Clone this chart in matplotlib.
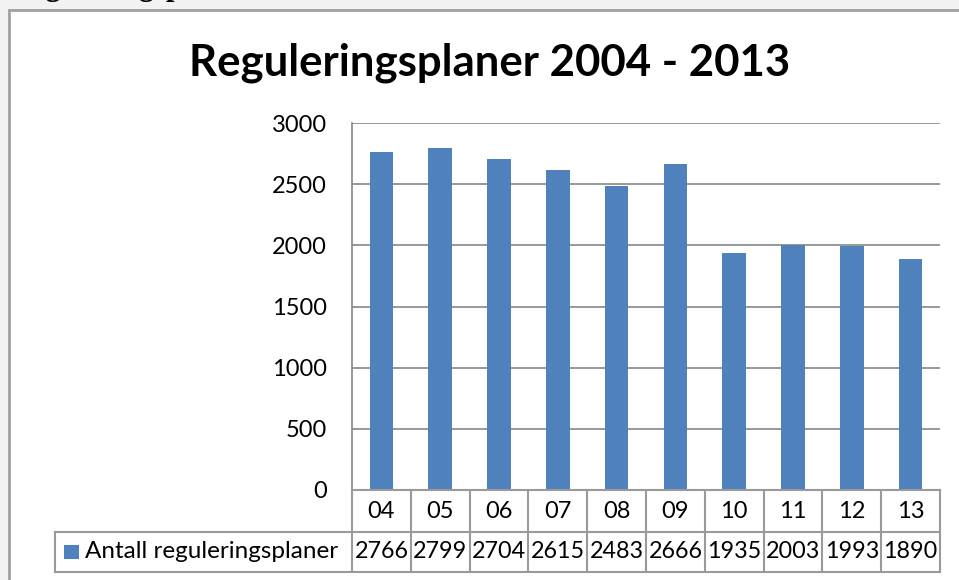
import matplotlib
matplotlib.use("Agg")
import matplotlib.pyplot as plt
from matplotlib.patches import Rectangle
from matplotlib.lines import Line2D

categories = ["04", "05", "06", "07", "08", "09", "10", "11", "12", "13"]
values = [2766, 2799, 2704, 2615, 2483, 2666, 1935, 2003, 1993, 1890]
series_name = "Antall reguleringsplaner"
title = "Reguleringsplaner 2004 - 2013"
yticks = [0, 500, 1000, 1500, 2000, 2500, 3000]

W, H = 959, 580
FONT = "Lato"
BAR = "#4F81BD"
GRID = "#868686"
TAB = "#9a9a9a"

fig = plt.figure(figsize=(W / 100, H / 100), dpi=100)
fig.patch.set_facecolor("#f2f2f2")

def fx(px):
    return px / W

def fy(py):
    return 1 - py / H

# chart frame
fig.patches.append(Rectangle((fx(9), fy(600)), fx(1000) - fx(9), fy(10) - fy(600),
                             transform=fig.transFigure, facecolor="white",
                             edgecolor="#a0a0a0", linewidth=2, zorder=-5))

# cut-off heading above the frame
fig.text(fx(10), fy(-5.5), "Reguleringsplaner", family="Liberation Serif",
         fontweight="bold", fontsize=22, ha="left", va="baseline", color="black")

L, R, T, B = 352, 940, 123, 490
ax = fig.add_axes([fx(L), fy(B), fx(R) - fx(L), fy(T) - fy(B)])
ax.set_zorder(2)
ax.set_facecolor("none")
x = list(range(len(categories)))
ax.bar(x, values, width=0.4, color=BAR, zorder=3)
ax.set_xlim(-0.5, len(categories) - 0.5)
ax.set_ylim(0, 3000)
ax.set_yticks(yticks)
ax.set_yticklabels([str(v) for v in yticks], fontsize=17, family=FONT)
ax.tick_params(axis="y", length=0, pad=18)
ax.set_xticks([])
for v in yticks:
    ax.axhline(v, color=GRID, linewidth=1.2, zorder=1)
for s in ["top", "right", "bottom"]:
    ax.spines[s].set_visible(False)
ax.spines["left"].set_color(GRID)
ax.spines["left"].set_linewidth(1.2)

fig.text(fx(490), fy(63), title, family=FONT, fontweight="bold", fontsize=31.5,
         ha="center", va="center")

# data table
row1_top, row1_bot, row2_bot = 490, 532, 572
cw = (R - L) / len(categories)

def hline(y, x0, x1):
    fig.lines.append(Line2D([fx(x0), fx(x1)], [fy(y), fy(y)], transform=fig.transFigure,
                            color=TAB, linewidth=1.5))

def vline(xp, y0, y1):
    fig.lines.append(Line2D([fx(xp), fx(xp)], [fy(y0), fy(y1)], transform=fig.transFigure,
                            color=TAB, linewidth=1.5))

hline(row1_top, L, R)
hline(row1_bot, 55, R)
hline(row2_bot, 55, R)
vline(55, row1_bot, row2_bot)
for i in range(len(categories) + 1):
    vline(L + i * cw, row1_top, row2_bot)

for i, (c, v) in enumerate(zip(categories, values)):
    xc = L + (i + 0.5) * cw
    fig.text(fx(xc), fy(511), c, family=FONT, fontsize=17, ha="center", va="center")
    fig.text(fx(xc), fy(552), str(v), family=FONT, fontsize=16.8, ha="center", va="center")

fig.patches.append(Rectangle((fx(64), fy(559)), fx(79) - fx(64), fy(545) - fy(559),
                             transform=fig.transFigure, facecolor=BAR, edgecolor="none"))
fig.text(fx(85), fy(552), series_name, family=FONT, fontsize=17.5, ha="left", va="center")

fig.savefig("out.png", dpi=100, facecolor=fig.get_facecolor())
